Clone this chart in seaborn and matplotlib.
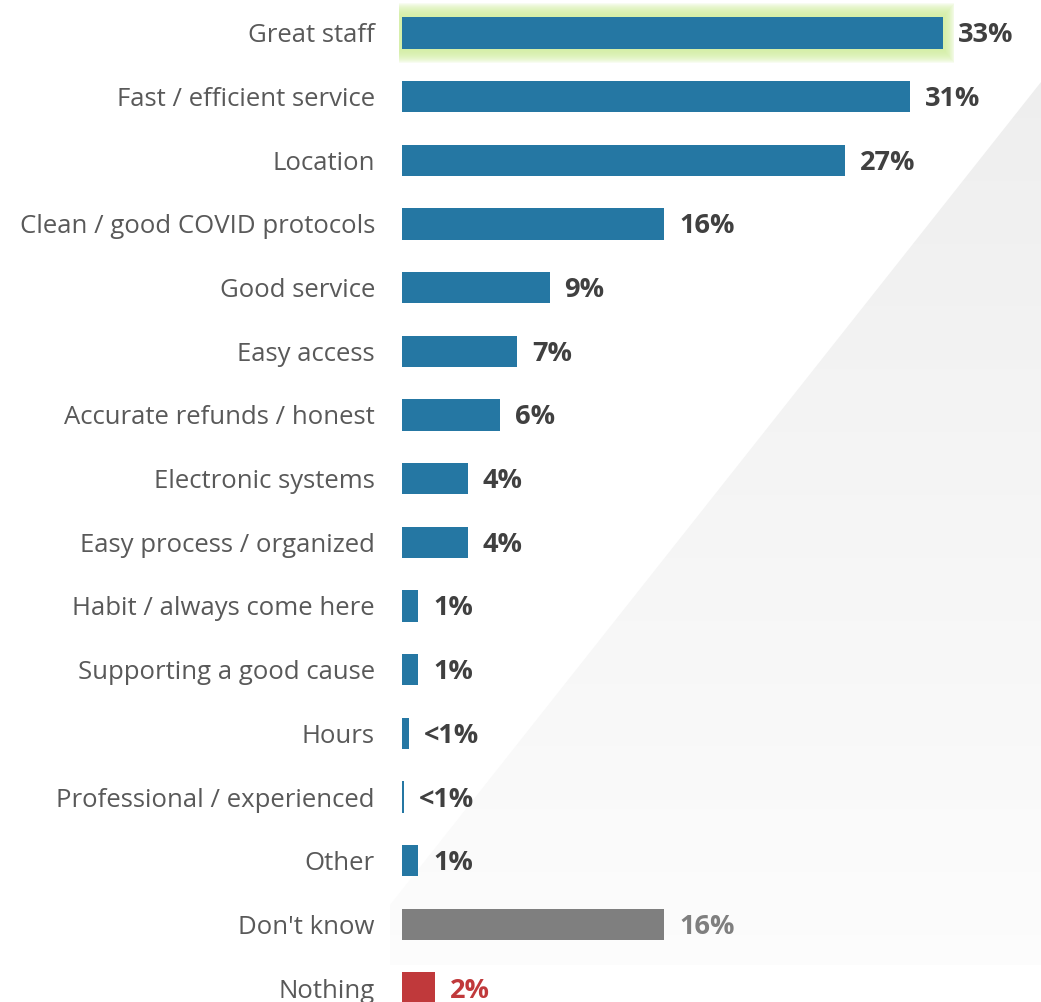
import numpy as np
import matplotlib
matplotlib.use("Agg")
import matplotlib.pyplot as plt
from matplotlib.patches import Polygon, Rectangle
import seaborn as sns

# Survey responses: what respondents liked about the visit
categories = [
    "Great staff", "Fast / efficient service", "Location",
    "Clean / good COVID protocols", "Good service", "Easy access",
    "Accurate refunds / honest", "Electronic systems",
    "Easy process / organized", "Habit / always come here",
    "Supporting a good cause", "Hours", "Professional / experienced",
    "Other", "Don't know", "Nothing",
]
values = [33, 31, 27, 16, 9, 7, 6, 4, 4, 1, 1, 0.4, 0.1, 1, 16, 2]
value_labels = ["33%", "31%", "27%", "16%", "9%", "7%", "6%", "4%", "4%",
                "1%", "1%", "<1%", "<1%", "1%", "16%", "2%"]

BLUE = "#2577a3"
GREY = "#7f7f7f"
RED = "#c0393b"
bar_colors = [BLUE] * 14 + [GREY, RED]
text_colors = ["#404040"] * 14 + [GREY, RED]

sns.set_theme(style="white")
plt.rcParams["font.family"] = ["Open Sans", "DejaVu Sans"]

W, H = 1041, 1002
fig = plt.figure(figsize=(W / 100, H / 100), dpi=100)

# Soft grey diagonal backdrop with a vertical fade
bg = fig.add_axes([0, 0, 1, 1], zorder=0)
bg.set_xlim(0, W)
bg.set_ylim(H, 0)
bg.axis("off")
grad = np.linspace(0.935, 0.99, 256).reshape(-1, 1)
img = bg.imshow(np.dstack([grad, grad, grad]), extent=[380, W, 965, 80],
                aspect="auto", interpolation="bilinear")
tri = Polygon([(W, 82), (W, 965), (390, 965), (390, 905)], closed=True,
              transform=bg.transData, facecolor="none", edgecolor="none")
bg.add_patch(tri)
img.set_clip_path(tri)

# Bar chart axes
x0 = 402
px_per_unit = 16.4
spacing = 63.7
y_first = 33
ax = fig.add_axes([x0 / W, 0, 1 - x0 / W, 1], zorder=1)
ax.patch.set_alpha(0)

sns.barplot(x=values, y=categories, hue=categories, palette=bar_colors,
            legend=False, orient="h", width=0.49, ax=ax, saturation=1,
            edgecolor="none", linewidth=0)

ax.set_xlim(0, (W - x0) / px_per_unit)
ax.set_ylim(len(categories) - 1 + (H - 988) / spacing, -y_first / spacing)

# Soft light-green glow around the leading bar, built from stacked halos
half_h = 0.49 / 2
for k in range(1, 15):
    pad_px = k * 1.0
    dy = pad_px / spacing
    dx = pad_px / px_per_unit
    left = min(dx, 3 / px_per_unit)
    ax.add_patch(Rectangle((-left, -half_h - dy),
                           values[0] + dx * 0.8 + left,
                           2 * (half_h + dy),
                           facecolor="#d3efa0", alpha=0.14, edgecolor="none",
                           zorder=0.5, clip_on=False))

for i, (v, lab, c) in enumerate(zip(values, value_labels, text_colors)):
    ax.text(v + 15 / px_per_unit, i + 2.5 / spacing, lab, va="center",
            ha="left", fontsize=19.5, fontweight="bold", color=c)

ax.tick_params(axis="y", length=0, pad=19.5, labelsize=18.5,
               labelcolor="#595959")
ax.set_xticks([])
ax.set_xlabel("")
ax.set_ylabel("")
sns.despine(ax=ax, left=True, bottom=True)

fig.savefig("out.png", dpi=100)
